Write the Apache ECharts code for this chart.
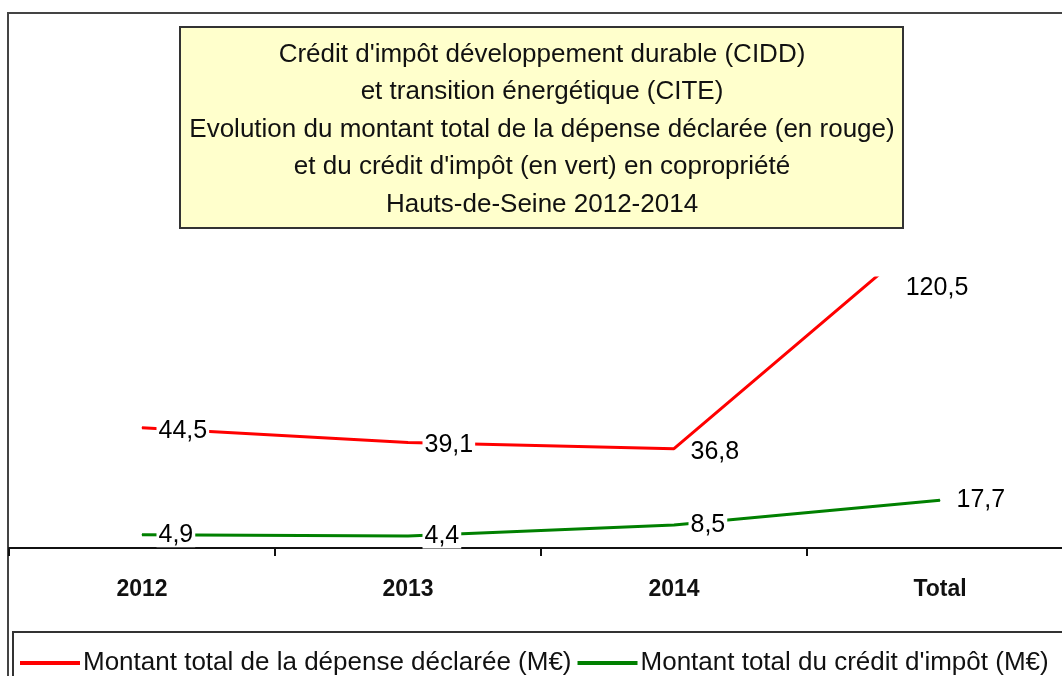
<!DOCTYPE html>
<html>
<head>
<meta charset="utf-8">
<script src="https://cdn.jsdelivr.net/npm/echarts@6/dist/echarts.min.js"></script>
<style>
  html, body { margin: 0; padding: 0; background: #fff; }
  #chart-container { width: 1062px; height: 676px; }
</style>
</head>
<body>
<div id="chart-container"></div>
<script>
const categories = ['2012', '2013', '2014', 'Total'];
const depense = [44.5, 39.1, 36.8, 120.5];
const credit = [4.9, 4.4, 8.5, 17.7];
const yMax = 100;

const titleLines = [
  "Crédit d'impôt développement durable (CIDD)",
  'et transition énergétique (CITE)',
  'Evolution du montant total de la dépense déclarée (en rouge)',
  "et du crédit d'impôt (en vert) en copropriété",
  'Hauts-de-Seine 2012-2014'
];
const legendNames = ['Montant total de la dépense déclarée (M€)', "Montant total du crédit d'impôt (M€)"];

const font = "'Liberation Sans', Arial, sans-serif";
const fmt = v => v.toFixed(1).replace('.', ',');

const pointLabel = dy => ({
  show: true,
  position: 'right',
  distance: 14,
  offset: [0, dy],
  color: '#000',
  fontFamily: font,
  fontSize: 25,
  backgroundColor: '#fff',
  padding: [0, 2],
  formatter: p => fmt(p.value)
});

const myChart = echarts.init(document.getElementById('chart-container'));
myChart.setOption({
  animation: false,
  graphic: [
    // cadre extérieur
    { type: 'rect', shape: { x: 8, y: 13, width: 1100, height: 700 },
      style: { fill: null, stroke: '#444', lineWidth: 2 }, z: 0 },
    // cadre légende
    { type: 'rect', shape: { x: 13, y: 632, width: 1100, height: 100 },
      style: { fill: null, stroke: '#333', lineWidth: 2 }, z: 0 },
    // fond du titre
    { type: 'rect', shape: { x: 180, y: 27, width: 723, height: 201 },
      style: { fill: '#FFFFCC', stroke: '#333', lineWidth: 2 }, z: 0 }
  ],
  title: {
    text: titleLines.join('\n'),
    left: 542,
    top: 36,
    textAlign: 'center',
    padding: 0,
    textStyle: {
      fontFamily: font,
      fontSize: 26,
      fontWeight: 'normal',
      color: '#111',
      lineHeight: 37.5
    }
  },
  legend: {
    data: legendNames,
    left: 15,
    top: 645,
    icon: 'rect',
    itemWidth: 60,
    itemHeight: 4,
    itemGap: 6,
    textStyle: { fontFamily: font, fontSize: 26, color: '#111', padding: [0, 0, 0, -2] }
  },
  grid: { left: 9, top: 278, width: 1064, height: 270, outerBoundsMode: 'none', containLabel: false },
  xAxis: {
    type: 'category',
    data: categories,
    boundaryGap: true,
    axisLine: { show: true, lineStyle: { color: '#111', width: 2 } },
    axisTick: { show: true, alignWithLabel: false, length: 8, lineStyle: { color: '#111', width: 2 } },
    axisLabel: { fontFamily: font, fontSize: 23, fontWeight: 'bold', color: '#111', margin: 30 }
  },
  yAxis: {
    type: 'value',
    min: 0,
    max: yMax,
    show: false,
    splitLine: { show: false }
  },
  series: [
    {
      name: legendNames[0],
      type: 'line',
      data: depense,
      color: '#FF0000',
      symbol: 'circle',
      symbolSize: 1,
      showSymbol: true,
      lineStyle: { width: 3 },
      label: pointLabel(3),
      markPoint: {
        symbol: 'circle',
        symbolSize: 0,
        data: [{ coord: [categories[3], yMax], value: depense[3] }],
        label: {
          show: true,
          position: 'inside',
          offset: [-3, 10],
          color: '#000',
          fontFamily: font,
          fontSize: 25,
          formatter: p => fmt(p.value)
        }
      }
    },
    {
      name: legendNames[1],
      type: 'line',
      data: credit,
      color: '#008000',
      symbol: 'circle',
      symbolSize: 1,
      showSymbol: true,
      lineStyle: { width: 3 },
      label: pointLabel(0)
    }
  ]
});
</script>
</body>
</html>
